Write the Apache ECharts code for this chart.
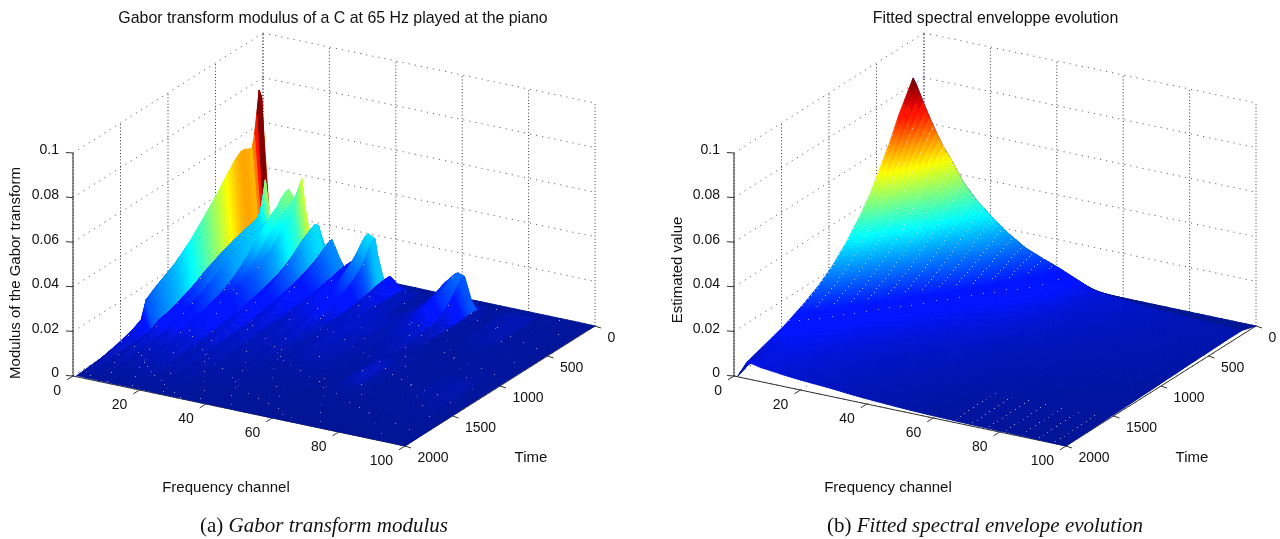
<!DOCTYPE html>
<html><head><meta charset="utf-8">
<style>html,body{margin:0;padding:0;background:#fff}#c{width:1280px;height:539px}</style>
<script src="https://cdn.jsdelivr.net/npm/echarts@6/dist/echarts.min.js"></script>
</head><body><div id="c"></div>
<script>
// ---------- tick labels ----------
const freqTicks=[0,20,40,60,80,100];
const timeTicks=[0,500,1000,1500,2000];
const zTicks=[0,0.02,0.04,0.06,0.08,0.1];
const zTickLabels=['0','0.02','0.04','0.06','0.08','0.1'];

// ---------- panel (a): modulus, in units of 1e-4 ----------
const timesA=[0,30,60,85,110,135,160,185,220,260,300,350,400,450,500,560,620,680,750,820,900,1000,1100,1200,1300,1350,1450,1600,1800,2000];
const channelsA=[1,2,4,6,8,10,12,13,15,17,19,22,24,26,29,32,35,37,39,41,43,46,50,54,58,61,64,66,69,72,76,80,85,90,95,100];
const a01=[2,10,60,110,120,110,100,95,95,95,95,90,90,85,80,75,70,65,60,55,50,45,40,35,30,25,20,15,10,3];
const a02=[5,100,560,744,780,680,590,540,545,555,556,540,515,490,462,430,400,370,338,305,275,240,215,190,160,85,62,42,22,6];
const a04=[3,30,120,160,180,190,195,190,180,170,165,155,150,145,140,130,120,110,100,90,80,70,60,50,42,35,30,24,14,4];
const a06=[3,12,30,60,110,180,280,410,300,265,255,250,245,238,232,222,212,200,185,172,150,128,110,92,85,60,46,34,18,5];
const a08=[3,10,30,60,100,130,160,180,170,160,150,145,140,135,130,125,118,110,100,90,78,68,58,48,42,35,30,24,14,4];
const a10=[3,12,35,70,120,170,230,280,285,275,270,265,260,255,250,240,230,222,200,180,160,135,115,95,75,55,42,30,16,4];
const a12=[3,10,30,60,100,140,190,235,230,215,200,190,180,170,160,150,135,125,110,98,85,72,60,50,42,35,30,24,14,4];
const a13=[3,12,35,70,120,190,290,390,385,370,345,330,310,290,265,235,205,180,155,135,115,98,85,75,65,50,40,30,16,4];
const a15=[3,12,35,70,120,190,280,350,350,340,325,310,290,270,245,215,190,170,150,132,115,100,88,76,65,50,40,30,16,4];
const a17=[3,12,40,80,130,210,330,450,400,345,320,300,280,250,225,205,185,165,150,132,118,102,90,78,66,52,42,32,16,4];
const a19=[3,10,30,60,100,140,180,200,190,175,160,145,135,125,115,105,95,88,80,72,62,55,50,44,38,32,28,22,12,4];
const a22=[3,10,30,60,100,150,210,255,270,262,250,235,215,195,175,158,142,125,112,100,88,75,65,56,48,38,32,26,14,4];
const a24=[3,8,25,45,70,100,130,150,145,135,125,118,110,100,92,85,78,72,65,58,52,46,40,35,30,26,24,18,10,3];
const a26=[3,8,25,50,90,130,175,205,200,190,175,158,142,128,115,105,95,85,75,66,58,50,44,38,34,30,26,20,12,3];
const a29=[2,6,15,30,45,60,75,85,82,78,72,68,64,60,55,50,48,45,42,38,35,30,28,25,22,20,18,15,10,3];
const a32=[2,6,18,35,60,85,110,125,125,120,115,108,100,92,85,78,70,62,55,48,42,36,30,26,22,20,18,14,8,3];
const a35=[2,6,14,25,45,80,120,150,150,140,125,110,98,85,75,65,58,50,42,36,30,26,22,20,18,16,14,10,6,2];
const a37=[2,5,10,20,40,90,180,265,262,240,215,190,170,150,132,115,98,85,72,60,48,40,32,26,22,18,15,12,6,2];
const a39=[2,4,8,15,35,85,175,250,245,215,180,150,130,115,100,85,72,60,50,42,35,30,25,20,18,15,12,10,5,2];
const a41=[2,4,10,18,30,45,58,62,60,56,50,46,42,38,35,32,30,28,26,24,22,20,18,15,14,12,10,8,5,2];
const a43=[2,5,12,25,45,68,85,90,85,78,72,66,60,54,50,45,42,40,36,32,28,24,20,16,14,12,10,8,5,2];
const a46=[2,4,8,12,18,24,28,30,30,30,30,30,32,34,36,38,40,40,40,38,36,32,28,22,16,12,8,6,4,2];
const a50=[1,3,6,8,10,12,14,14,14,14,14,16,18,22,28,32,34,34,32,30,28,26,22,18,14,12,10,6,3,1];
const a54=[1,2,4,6,8,10,10,10,10,10,10,10,12,14,16,18,20,22,22,22,20,18,16,14,12,10,8,5,3,1];
const a58=[1,2,6,12,20,30,42,52,52,50,48,45,42,38,34,30,26,22,20,18,16,14,12,10,10,8,6,4,2,1];
const a61=[1,3,8,15,28,50,90,130,130,122,112,100,85,72,60,50,42,35,28,24,20,16,14,12,10,8,6,4,2,1];
const a64=[1,3,8,15,25,40,95,175,178,170,158,145,130,105,85,65,50,40,34,28,22,18,14,14,14,12,8,4,2,1];
const a66=[1,3,6,12,20,35,90,165,160,140,115,90,68,52,42,36,30,25,20,16,14,20,30,36,34,28,14,5,2,1];
const a69=[1,2,4,6,8,10,14,18,18,16,14,14,12,12,10,10,10,10,10,10,12,14,16,16,14,12,8,6,4,1];
const a72=[1,2,4,6,8,8,8,8,8,8,8,8,8,8,8,8,8,8,8,8,8,8,8,8,8,6,6,4,3,1];
const a76=[1,2,6,8,10,10,10,10,10,10,10,10,10,10,10,8,8,8,8,8,8,8,8,8,8,6,6,4,3,1];
const a80=[1,2,6,10,16,20,22,24,24,24,24,24,22,20,18,16,12,10,8,8,8,8,8,8,8,6,6,4,3,1];
const a85=[1,2,4,6,8,8,8,8,8,8,8,8,8,8,8,8,8,8,8,8,8,8,8,8,8,6,6,4,3,1];
const a90=[1,2,4,6,8,8,8,8,8,8,8,8,8,8,8,8,8,8,8,10,10,12,16,18,18,14,10,6,3,1];
const a95=[1,2,4,6,6,6,6,6,6,6,6,6,6,6,6,6,6,6,6,6,6,6,6,6,6,6,5,4,3,1];
const a100=[0,1,2,3,4,4,4,4,4,4,4,4,4,4,4,4,4,4,4,4,4,4,4,4,4,4,3,3,2,0];
const columnsA=[a01,a02,a04,a06,a08,a10,a12,a13,a15,a17,a19,a22,a24,a26,a29,a32,a35,a37,a39,a41,a43,a46,a50,a54,a58,a61,a64,a66,a69,a72,a76,a80,a85,a90,a95,a100];

// ---------- panel (b): estimated value, in units of 1e-4 ----------
const timesB=[0,150,220,300,400,500,600,700,850,1000,1150,1300,1500,1700,1900,2000];
const channelsB=[1,2,4,6,8,10,13,16,20,25,30,35,40,45,50,55,60,70,80,90,100];
const b01=[0,842,783,716,615,530,446,379,295,227,177,139,97,67,38,0];
const b02=[0,815,760,695,600,515,435,370,288,222,173,136,95,66,40,20];
const b04=[0,745,695,635,550,472,400,338,265,205,160,125,90,66,60,75];
const b06=[0,680,632,578,497,428,360,306,240,186,146,115,88,72,62,70];
const b08=[0,620,578,527,455,392,330,280,220,172,136,108,84,70,60,63];
const b10=[0,565,526,482,415,358,302,256,202,158,125,100,79,66,56,60];
const b13=[0,500,465,425,366,316,268,228,180,142,113,91,73,61,53,55];
const b16=[0,425,396,362,312,270,229,195,155,123,99,80,65,55,48,50];
const b20=[0,355,331,303,262,226,193,165,132,106,85,70,57,49,43,45];
const b25=[0,290,271,248,215,186,160,137,110,89,72,60,49,42,38,40];
const b30=[0,232,217,199,173,151,130,112,91,74,60,50,42,37,33,35];
const b35=[0,185,173,159,139,122,106,92,75,62,51,43,36,32,28,28];
const b40=[0,155,145,134,117,103,90,78,65,54,45,38,32,27,24,23];
const b45=[0,127,119,110,97,86,75,66,55,46,39,33,28,24,20,19];
const b50=[0,95,90,84,75,67,60,53,45,38,33,28,24,20,17,15];
const b55=[0,62,61,59,55,51,47,43,37,32,28,24,20,17,14,12];
const b60=[0,50,50,48,46,43,40,37,32,28,24,21,17,14,11,10];
const b70=[0,38,38,37,36,34,32,30,26,23,20,17,14,11,8,7];
const b80=[0,30,30,30,29,27,26,24,21,19,16,14,11,8,6,5];
const b90=[0,25,25,25,24,23,21,20,18,15,13,11,9,6,4,3];
const b100=[0,20,20,20,19,18,17,16,14,12,10,8,6,4,2,0];
const columnsB=[b01,b02,b04,b06,b08,b10,b13,b16,b20,b25,b30,b35,b40,b45,b50,b55,b60,b70,b80,b90,b100];

// ---------- view of each 3-D box (orthographic axes) ----------
const viewA={ox:73,oy:376,fx:3.32,fy:0.70,tx:0.095,ty:0.06,zs:2230};
const viewB={ox:734,oy:376,fx:3.32,fy:0.70,tx:0.095,ty:0.06,zs:2230};
const FONT='"Liberation Sans",Helvetica,Arial,sans-serif';
const TMAX=2000,FMAX=100,ZMAX=0.1;

function project(v,f,t,z){return [v.ox+f*v.fx+(TMAX-t)*v.tx, v.oy+f*v.fy-(TMAX-t)*v.ty-z*v.zs];}
function clamp(x){return Math.max(0,Math.min(1,x));}
function jet(u){
  const r=clamp(Math.min(4*u-1.5,-4*u+4.5)),g=u>0.9?0:Math.max(0.08,clamp(Math.min(4*u-0.5,-4*u+3.5))),b=clamp(Math.min(4*u+0.58,-4*u+2.5));
  return 'rgb('+Math.round(r*255)+','+Math.round(g*255)+','+Math.round(b*255)+')';
}
// rendering cracks of the original: which facets show a pale pin-hole
function pinA(fi,tk,z){return z<0.02&&(fi*fi*7+tk*tk*3+fi*tk)%37===0;}
function pinB(fi,tk,z,zNext,f,t){
  if(z>0.013&&z<0.066) return (fi*5+tk*3)%6===0;
  if(z>=0.0105&&zNext<0.0105) return fi%2===0;
  if(f>65&&t>1550) return fi%5===0&&tk%3===0;
  return false;
}
// build the flat-shaded facets from the read tables
function facets(F,T,C,o){
  const out=[];let fi=0;
  for(let i=0;i<F.length-1;i++){
    const nf=o.fs?Math.max(1,Math.round((F[i+1]-F[i])/o.fs)):1;
    for(let a=0;a<nf;a++,fi++){
      const u0=a/nf,u1=(a+1)/nf,f0=F[i]+(F[i+1]-F[i])*u0,f1=F[i]+(F[i+1]-F[i])*u1;
      let tk=0;
      for(let j=0;j<T.length-1;j++){
        const nt=(o.ts&&T[j]>=o.tsFrom)?Math.max(1,Math.round((T[j+1]-T[j])/o.ts)):1;
        for(let b=0;b<nt;b++,tk++){
          const w0=b/nt,w1=(b+1)/nt,t0=T[j]+(T[j+1]-T[j])*w0,t1=T[j]+(T[j+1]-T[j])*w1;
          const at=(u,w)=>((1-u)*(1-w)*C[i][j]+u*(1-w)*C[i+1][j]+(1-u)*w*C[i][j+1]+u*w*C[i+1][j+1])*1e-4;
          const z00=at(u0,w0),z10=at(u1,w0),z11=at(u1,w1),z01=at(u0,w1);
          const shade=o.max?Math.max(z00,z01,0.85*Math.max(z10,z11)):z00;
          out.push([f0,f1,t0,t1,z00,z10,z11,z01,shade,o.pin(fi,tk,z00,z01,f0,t0)?1:0]);
        }
      }
    }
  }
  return out;
}
function surface(v,F,T,C,o,zmax){
  return {type:'custom',coordinateSystem:'cartesian2d',silent:true,animation:false,clip:false,progressive:0,z:3,
    data:facets(F,T,C,o),
    renderItem:function(p,api){
      const f0=api.value(0),f1=api.value(1),t0=api.value(2),t1=api.value(3);
      const pts=[project(v,f0,t0,api.value(4)),project(v,f1,t0,api.value(5)),project(v,f1,t1,api.value(6)),project(v,f0,t1,api.value(7))].map(q=>api.coord(q));
      const c=jet(api.value(8)/zmax);
      const poly={type:'polygon',shape:{points:pts},style:{fill:c,stroke:c,lineWidth:0.9}};
      if(!api.value(9)) return poly;
      return {type:'group',children:[poly,{type:'rect',shape:{x:Math.round(pts[0][0]),y:Math.round(pts[0][1]),width:1,height:1},style:{fill:'rgba(225,232,255,0.7)'}}]};
    }};
}
function segments(list,style,z){
  return {type:'custom',coordinateSystem:'cartesian2d',silent:true,animation:false,clip:false,z:z,
    data:list.map((s,i)=>[i]),
    renderItem:function(p,api){
      const s=list[api.value(0)],a=api.coord(s[0]),b=api.coord(s[1]);
      return {type:'line',shape:{x1:a[0],y1:a[1],x2:b[0],y2:b[1]},style:style};
    }};
}
function labels(list,size){
  return {type:'custom',coordinateSystem:'cartesian2d',silent:true,animation:false,clip:false,z:5,
    data:list.map((s,i)=>[i]),
    renderItem:function(p,api){
      const s=list[api.value(0)],a=api.coord([s.x,s.y]);
      return {type:'text',x:a[0],y:a[1],rotation:s.rot||0,style:{text:s.text,fill:'#111',font:size+'px '+FONT,align:s.align||'center',verticalAlign:'middle'}};
    }};
}
function frame(v){
  const P=(f,t,z)=>project(v,f,t,z),slant=[],upright=[],axes=[],tl=[];
  zTicks.forEach((z,i)=>{
    slant.push([P(0,TMAX,z),P(0,0,z)],[P(0,0,z),P(FMAX,0,z)]);
    const q=P(0,TMAX,z);
    axes.push([q,[q[0]-7,q[1]-0.5]]);
    tl.push({x:q[0]-14,y:q[1]-2.5,text:zTickLabels[i],align:'right'});
  });
  timeTicks.forEach(t=>{
    upright.push([P(0,t,0),P(0,t,ZMAX)]);
    slant.push([P(0,t,0),P(FMAX,t,0)]);
    const q=P(FMAX,t,0);
    axes.push([q,[q[0]+6,q[1]+2]]);
    tl.push({x:q[0]+12.5,y:q[1]+12,text:String(t),align:'left'});
  });
  freqTicks.forEach(f=>{
    upright.push([P(f,0,0),P(f,0,ZMAX)]);
    slant.push([P(f,0,0),P(f,TMAX,0)]);
    const q=P(f,TMAX,0);
    axes.push([q,[q[0]-6,q[1]+3.8]]);
    tl.push({x:q[0]-12,y:q[1]+15,text:String(f),align:'right'});
  });
  axes.push([P(0,TMAX,0),P(0,TMAX,ZMAX)],[P(0,TMAX,0),P(FMAX,TMAX,0)],[P(FMAX,TMAX,0),P(FMAX,0,0)]);
  return {slant,upright,axes,tl};
}
const fa=frame(viewA),fb=frame(viewB);
const dotSlant={stroke:'#666',lineWidth:1,lineDash:[1.2,5],fill:null};
const dotUp={stroke:'#333',lineWidth:1,lineDash:[1,2.2],fill:null};
const solid={stroke:'#333',lineWidth:1,fill:null};
const axisNamesA=[{x:226,y:488,text:'Frequency channel'},{x:531,y:458,text:'Time'},{x:16,y:273,text:'Modulus of the Gabor transform',rot:Math.PI/2}];
const axisNamesB=[{x:888,y:488,text:'Frequency channel'},{x:1192,y:458,text:'Time'},{x:678,y:270,text:'Estimated value',rot:Math.PI/2}];

const SERIF='"Liberation Serif","Times New Roman",serif';
const capStyle={fontWeight:'normal',rich:{n:{fontFamily:SERIF,fontSize:21,fontWeight:'normal',color:'#111'},i:{fontFamily:SERIF,fontSize:21,fontWeight:'normal',fontStyle:'italic',color:'#111'}}};
const titleStyle={fontFamily:FONT,fontSize:15.9,fontWeight:'normal',color:'#111'};
const chart=echarts.init(document.getElementById('c'),null,{renderer:'canvas'});
chart.setOption({
  animation:false,backgroundColor:'#fff',
  title:[
    {text:'Gabor transform modulus of a C at 65 Hz played at the piano',left:328,top:6,textAlign:'center',textStyle:titleStyle},
    {text:'Fitted spectral enveloppe evolution',left:990.5,top:6,textAlign:'center',textStyle:titleStyle},
    {text:'{n|(a) }{i|Gabor transform modulus}',left:319,top:511,textAlign:'center',textStyle:capStyle},
    {text:'{n|(b) }{i|Fitted spectral envelope evolution}',left:980,top:511,textAlign:'center',textStyle:capStyle}
  ],
  grid:{left:0,right:0,top:0,bottom:0},
  xAxis:{type:'value',min:0,max:1280,show:false},
  yAxis:{type:'value',min:0,max:539,inverse:true,show:false},
  series:[
    segments(fa.slant,dotSlant,1),segments(fb.slant,dotSlant,1),
    segments(fa.upright,dotUp,1),segments(fb.upright,dotUp,1),
    segments(fa.axes,solid,2),segments(fb.axes,solid,2),
    surface(viewA,channelsA,timesA,columnsA,{max:true,ts:12,tsFrom:185,pin:pinA},0.078),
    surface(viewB,channelsB,timesB,columnsB,{fs:1,ts:15,tsFrom:150,pin:pinB},0.0842),
    labels(fa.tl,14),labels(fb.tl,14),labels(axisNamesA,15),labels(axisNamesB,15)
  ]
});
</script></body></html>
